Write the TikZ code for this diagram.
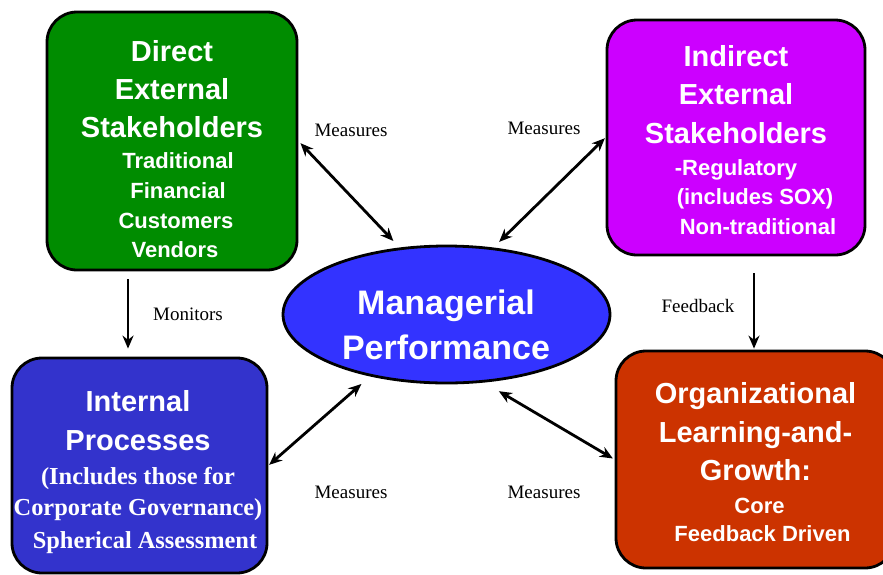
\documentclass[tikz,border=0pt]{standalone}
\usepackage{fontspec}
\setmainfont{Liberation Sans}
\newfontfamily\timesfont{Liberation Serif}
\usetikzlibrary{arrows.meta,shapes.geometric}

\definecolor{desgreen}{RGB}{0,140,0}
\definecolor{iespurple}{RGB}{204,0,255}
\definecolor{ipblue}{RGB}{51,51,204}
\definecolor{mpblue}{RGB}{51,51,255}
\definecolor{olgred}{RGB}{204,51,0}

\tikzset{box:style/.style={draw,line width=2.8pt,rounded corners=30pt,inner sep=0pt}}
\tikzset{oval:style/.style={draw,ellipse,line width=2.8pt,fill=mpblue,inner sep=0pt}}
\tikzset{text:style/.style={text=white,align=center,inner sep=0pt,font=\bfseries\fontsize{22}{29.5}\selectfont}}
\tikzset{tag:style/.style={inner sep=0pt,font=\timesfont\fontsize{19}{23}\selectfont}}
\tikzset{edge:style/.style={draw,line width=2.8pt,{Stealth[length=13pt,width=11pt]}-{Stealth[length=13pt,width=11pt]}}}
\tikzset{flow:style/.style={draw,line width=2.8pt,-{Stealth[length=13pt,width=11pt]}}}
\def\bigline{\fontsize{29}{38}\selectfont}
\def\serifline{\timesfont\fontsize{24.4}{32}\selectfont}

\begin{document}
\begin{tikzpicture}[x=1pt,y=-1pt]
	
	\useasboundingbox (0,0) rectangle (883,574);
	
	\path 
		(172,141) coordinate (cdes)
		(736,137.5) coordinate (cies)
		(139.5,465.5) coordinate (cip)
		(755.5,459.5) coordinate (colg)
		(446.5,314.5) coordinate (cmp)
		(128,0) coordinate (cmon)
		(754,0) coordinate (cfb);
	
	\path (cdes) node[box:style,fill=desgreen,minimum width=250pt,minimum height=258pt] (des) {};
	\path (cies) node[box:style,fill=iespurple,minimum width=258pt,minimum height=235pt] (ies) {};
	\path (cip) node[box:style,fill=ipblue,minimum width=255pt,minimum height=215pt] (ip) {};
	\path (colg) node[box:style,fill=olgred,minimum width=279pt,minimum height=217pt] (olg) {};
	\path (cmp) node[oval:style,minimum width=327pt,minimum height=137pt] (mp) {};
	
	\path (172,149.3) node[text:style] (destxt) {\bigline Direct\\[8.5pt]\bigline External\\[8.5pt]\bigline Stakeholders\\[1.5pt]\hspace*{12pt}Traditional\\\hspace*{12pt}Financial\\[0.5pt]\hspace*{8pt}Customers\\\hspace*{6pt}Vendors};
	\path (736,139.7) node[text:style] (iestxt) {\bigline Indirect\\[9pt]\bigline External\\[9pt]\bigline Stakeholders\\[3pt]-Regulatory\\[-1pt]\hspace*{38pt}(includes SOX)\\[0.5pt]\hspace*{44pt}Non-traditional};
	\path (138,472) node[text:style] (iptxt) {\bigline Internal\\[9.5pt]\bigline Processes\\[4.5pt]\serifline(Includes those for\\[2pt]\serifline Corporate Governance)\\[3pt]\serifline\hspace*{14pt}Spherical Assessment};
	\path (755.5,462.3) node[text:style] (olgtxt) {\bigline Organizational\\[9pt]\bigline Learning-and-\\[8.5pt]\bigline Growth:\\[3.5pt]\hspace*{8pt}Core\\[-1.5pt]\hspace*{14pt}Feedback Driven};
	\path (446,324.5) node[text:style,font=\bfseries\fontsize{34}{45}\selectfont] (mptxt) {Managerial\\Performance};
	
	\path[edge:style,shorten <=3pt,shorten >=9pt] (des.east) -- (mp.125);
	\path[edge:style,shorten <=1pt,shorten >=8pt] (ies.west) -- (mp.55);
	\path[edge:style,shorten <=1pt,shorten >=11.5pt] (ip.east) -- (mp.219);
	\path[edge:style,shorten <=17pt,shorten >=2pt] (mp.299) -- (olg.west);
	\path[flow:style,shorten <=8pt,shorten >=8pt] (des.south -| cmon) -- (ip.north -| cmon);
	\path[flow:style,shorten <=17pt,shorten >=1pt] (ies.south -| cfb) -- (olg.north -| cfb);
	
	\path (351,130) node[tag:style] (meas1) {Measures};
	\path (544,128) node[tag:style] (meas2) {Measures};
	\path (351,492) node[tag:style] (meas3) {Measures};
	\path (544,492) node[tag:style] (meas4) {Measures};
	\path (188,314) node[tag:style] (mon) {Monitors};
	\path (698,306) node[tag:style] (fb) {Feedback};
	
\end{tikzpicture}
\end{document}
